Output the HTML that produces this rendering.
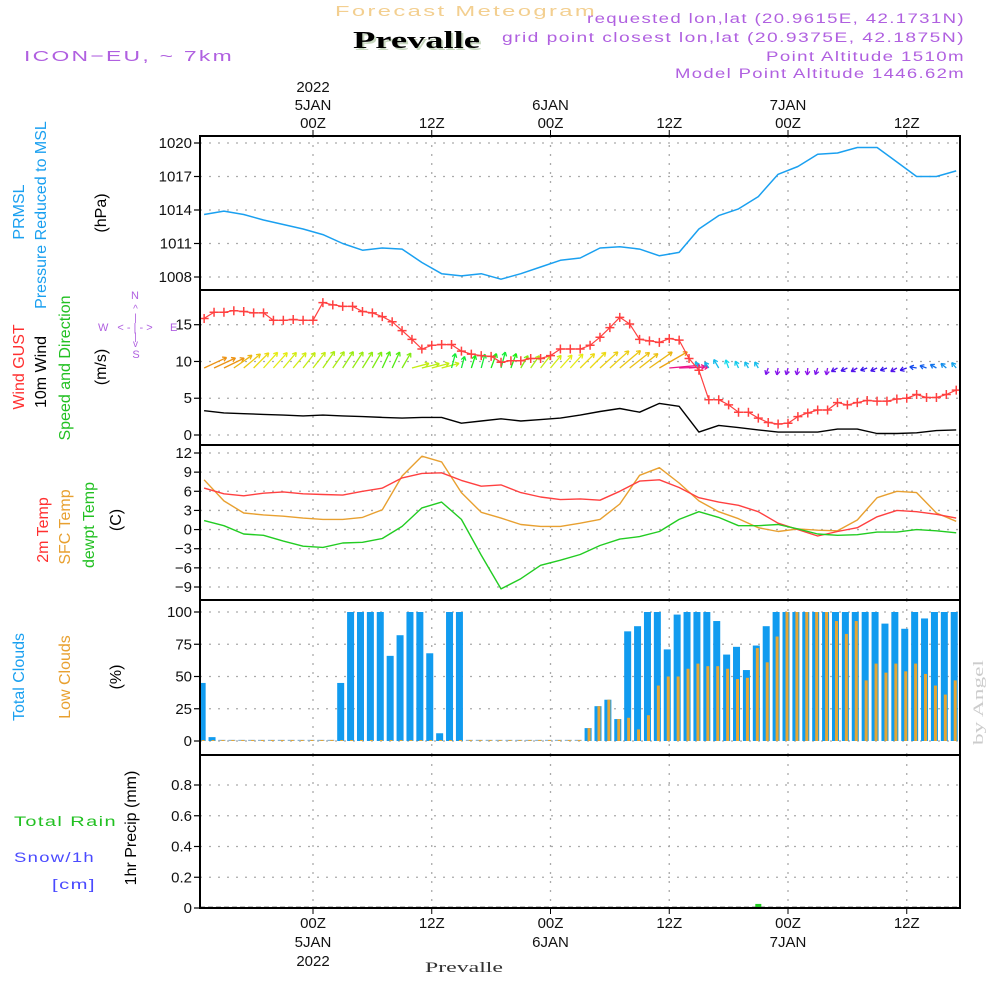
<!DOCTYPE html>
<html><head><meta charset="utf-8"><title>Forecast Meteogram Prevalle</title>
<style>
html,body{margin:0;padding:0;background:#fff;}
svg{display:block;font-family:"Liberation Sans",sans-serif;}
.tk{font-size:15px;fill:#111;}
.lab{font-family:"Liberation Sans Narrow","Liberation Sans",sans-serif;font-size:16px;}
</style></head>
<body>
<svg id="chart" width="1000" height="1000" viewBox="0 0 1000 1000" xmlns="http://www.w3.org/2000/svg">
<g id="header">
<text x="335" y="16" font-size="15" fill="#f3cf90" letter-spacing="1.5" textLength="262" lengthAdjust="spacingAndGlyphs">Forecast Meteogram</text>
<text x="355" y="50" font-family="Liberation Serif,serif" font-weight="bold" font-size="24" fill="#c8d8c0" textLength="127" lengthAdjust="spacingAndGlyphs">Prevalle</text>
<text x="353" y="48" font-family="Liberation Serif,serif" font-weight="bold" font-size="24" fill="#000" textLength="127" lengthAdjust="spacingAndGlyphs">Prevalle</text>
<text x="24" y="61" font-size="15" fill="#b060e0" letter-spacing="1.5" textLength="210" lengthAdjust="spacingAndGlyphs">ICON−EU, ~ 7km</text>
<text x="587" y="23" font-size="13.5" fill="#b060e0" letter-spacing="1" textLength="378" lengthAdjust="spacingAndGlyphs">requested lon,lat (20.9615E, 42.1731N)</text>
<text x="502" y="42" font-size="13.5" fill="#b060e0" letter-spacing="1" textLength="463" lengthAdjust="spacingAndGlyphs">grid point closest lon,lat (20.9375E, 42.1875N)</text>
<text x="766" y="61" font-size="13.5" fill="#b060e0" letter-spacing="1" textLength="199" lengthAdjust="spacingAndGlyphs">Point Altitude 1510m</text>
<text x="675" y="78" font-size="13.5" fill="#b060e0" letter-spacing="1" textLength="290" lengthAdjust="spacingAndGlyphs">Model Point Altitude 1446.62m</text>
<text x="425" y="972" font-family="Liberation Serif,serif" font-size="15" fill="#333" textLength="78" lengthAdjust="spacingAndGlyphs">Prevalle</text>
<text transform="translate(983,745) rotate(-90)" font-family="Liberation Serif,serif" font-size="15" fill="#ccc" textLength="85" lengthAdjust="spacingAndGlyphs">by Angel</text>
</g>
<g id="leftlabels" class="lab">
<text transform="translate(24,212) rotate(-90)" text-anchor="middle" fill="#1aa0f0">PRMSL</text>
<text transform="translate(46,215) rotate(-90)" text-anchor="middle" fill="#1aa0f0">Pressure Reduced to MSL</text>
<text transform="translate(106,213) rotate(-90)" text-anchor="middle" fill="#000">(hPa)</text>
<text transform="translate(24,367) rotate(-90)" text-anchor="middle" fill="#ff3030">Wind GUST</text>
<text transform="translate(46,372) rotate(-90)" text-anchor="middle" fill="#000">10m Wind</text>
<text transform="translate(70,368) rotate(-90)" text-anchor="middle" fill="#22c022">Speed and Direction</text>
<text transform="translate(106,367) rotate(-90)" text-anchor="middle" fill="#000">(m/s)</text>
<g fill="#b060e0" stroke="none" font-size="11">
<text x="135" y="299" text-anchor="middle">N</text>
<text x="135.5" y="312" text-anchor="middle" font-size="10">^</text>
<text x="135.5" y="321" text-anchor="middle" font-size="10">|</text>
<text x="98" y="331">W</text>
<text x="170" y="331">E</text>
<text x="135" y="331" text-anchor="middle" font-size="11">&lt; - | - &gt;</text>
<text x="135.5" y="340" text-anchor="middle" font-size="10">|</text>
<text x="135.5" y="347" text-anchor="middle" font-size="10">v</text>
<text x="136" y="358" text-anchor="middle">S</text>
</g>
<text transform="translate(48,530) rotate(-90)" text-anchor="middle" fill="#ff3030">2m Temp</text>
<text transform="translate(70,527) rotate(-90)" text-anchor="middle" fill="#e8a030">SFC Temp</text>
<text transform="translate(94,525) rotate(-90)" text-anchor="middle" fill="#22c022">dewpt Temp</text>
<text transform="translate(121,520) rotate(-90)" text-anchor="middle" fill="#000">(C)</text>
<text transform="translate(24,677) rotate(-90)" text-anchor="middle" fill="#1aa0f0">Total Clouds</text>
<text transform="translate(70,677) rotate(-90)" text-anchor="middle" fill="#e8a030">Low Clouds</text>
<text transform="translate(121,677) rotate(-90)" text-anchor="middle" fill="#000">(%)</text>
<text transform="translate(136,828) rotate(-90)" text-anchor="middle" fill="#000">1hr Precip (mm)</text>
<text x="14" y="826" fill="#22c022" font-family="Liberation Sans,sans-serif" font-size="14" letter-spacing="1" textLength="103" lengthAdjust="spacingAndGlyphs">Total   Rain</text>
<text x="14" y="862" fill="#4a4aff" font-family="Liberation Sans,sans-serif" font-size="14" letter-spacing="1" textLength="81" lengthAdjust="spacingAndGlyphs">Snow/1h</text>
<text x="52" y="889" fill="#4a4aff" font-family="Liberation Sans,sans-serif" font-size="14" letter-spacing="1" textLength="44" lengthAdjust="spacingAndGlyphs">[cm]</text>
</g>
<g id="grid"></g>
<g id="marks"></g>
<g id="frames"></g>
<g id="ticks"></g>
</svg>
<script>
// ---- data ----
var lineStart = -11; // hours from 00Z 5JAN, 2-hourly series
var pressure = [1013.6,1013.9,1013.6,1013.1,1012.7,1012.3,1011.8,1011.0,1010.4,1010.6,1010.5,1009.3,1008.3,1008.1,1008.3,1007.8,1008.3,1008.9,1009.5,1009.7,1010.6,1010.7,1010.5,1009.9,1010.2,1012.3,1013.5,1014.1,1015.2,1017.2,1017.9,1019.0,1019.1,1019.6,1019.6,1018.3,1017.0,1017.0,1017.5];
var windSpeed = [3.3,3.0,2.9,2.8,2.7,2.6,2.7,2.6,2.5,2.4,2.3,2.4,2.4,1.6,1.9,2.2,1.9,2.1,2.3,2.7,3.2,3.6,3.1,4.3,3.9,0.4,1.3,1.0,0.7,0.4,0.4,0.4,0.8,0.8,0.2,0.2,0.3,0.6,0.7];
var temp2m = [6.5,5.6,5.3,5.7,5.9,5.6,5.5,5.4,6.0,6.5,8.1,8.8,8.9,7.7,6.8,7.0,5.8,5.1,4.7,4.8,4.6,6.0,7.6,7.8,6.6,5.0,4.3,3.8,2.8,1.0,0.0,-1.0,-0.3,0.3,2.0,3.0,2.8,2.4,1.8];
var tempSfc = [7.8,4.5,2.6,2.3,2.1,1.8,1.6,1.6,1.9,3.1,8.4,11.5,10.6,5.8,2.7,1.8,0.8,0.5,0.5,1.0,1.6,4.0,8.5,9.7,7.3,4.5,2.8,1.7,0.3,-0.3,0.1,-0.1,-0.2,1.5,5.0,6.0,5.8,2.6,1.3];
var dewpt = [1.4,0.6,-0.7,-0.9,-1.8,-2.6,-2.8,-2.1,-2.0,-1.4,0.5,3.4,4.3,1.6,-4.0,-9.3,-7.7,-5.6,-4.8,-3.9,-2.5,-1.5,-1.1,-0.3,1.6,2.8,1.9,0.6,0.6,0.8,0.1,-0.7,-0.9,-0.8,-0.4,-0.4,0.0,-0.2,-0.5];
var hourStart = -11; // hourly series
var gust = [15.85,16.7,16.7,16.9,16.8,16.6,16.6,15.6,15.6,15.7,15.6,15.6,18.0,17.7,17.5,17.5,16.8,16.6,16.1,15.4,14.2,13.0,11.7,12.2,12.3,12.3,11.4,11.0,10.8,10.7,9.9,10.1,10.1,10.4,10.4,10.8,11.7,11.7,11.7,12.2,13.3,14.6,16.0,15.1,13.0,12.8,12.6,13.1,12.9,10.4,8.8,4.8,4.8,4.1,3.1,3.1,2.3,1.7,1.5,1.6,2.5,3.0,3.4,3.4,4.4,4.1,4.4,4.7,4.6,4.6,4.9,5.0,5.5,5.1,5.1,5.5,6.1];
var windDir = [245,245,244,235,230,225,222,222,220,220,218,218,215,215,213,213,212,210,205,205,210,255,256,255,255,195,195,198,195,200,195,200,210,215,218,220,222,222,225,225,228,228,230,232,232,235,240,265,268,265,150,145,150,160,155,150,150,20,10,15,10,5,20,10,60,65,60,70,65,70,60,70,100,110,120,130,140];
var totalClouds = [45,3,0,0,0,0,0,0,0,0,0,0,0,0,45,100,100,100,100,66,82,100,100,68,6,100,100,0,0,0,0,0,0,0,0,0,0,0,0,10,27,32,17,85,89,100,100,71,98,100,100,100,93,67,73,55,74,89,100,100,100,100,100,100,100,100,100,100,100,91,100,87,100,95,100,100,100];
var lowClouds = [0,0,0,0,0,0,0,0,0,0,0,0,0,0,0,0,0,0,0,0,0,0,0,0,0,0,0,0,0,0,0,0,0,0,0,0,0,0,0,10,27,32,17,18,9,20,43,50,50,56,60,58,58,56,48,49,72,61,81,100,100,100,100,100,93,83,93,47,60,53,60,54,60,52,43,36,47];
var precipHours = [45];
var precipValues = [0.02];
var pressTicks = [1020,1017,1014,1011,1008];
var windTicks = [15,10,5,0];
var tempTicks = [12,9,6,3,0,-3,-6,-9];
var cloudTicks = [100,75,50,25,0];
var precipTicks = [0.8,0.6,0.4,0.2,0];
var timeTicks = [0,12,24,36,48,60];
var topLabels = [["2022","5JAN","00Z"],["","","12Z"],["","6JAN","00Z"],["","","12Z"],["","7JAN","00Z"],["","","12Z"]];
var botLabels = [["00Z","5JAN","2022"],["12Z","",""],["00Z","6JAN",""],["12Z","",""],["00Z","7JAN",""],["12Z","",""]];

// ---- scales ----
var X0=200,X1=960;
function xs(t){return 313+t*(118.75/12);}
function yP(p){return 277-(p-1008)*(134/12);}
function yW(v){return 435-v*(110.3/15);}
function yT(v){return 587-(v+9)*(134/21);}
function yC(c){return 741-c*1.29;}
function yR(r){return 908-r*153.75;}
var panels=[[136,290,yP,pressTicks,function(v){return String(v);},'pressure'],[290,445,yW,windTicks,function(v){return String(v);},'wind'],[445,600,yT,tempTicks,function(v){return v<0?'−'+(-v):String(v);},'temp'],[600,755,yC,cloudTicks,function(v){return String(v);},'cloud'],[755,908,yR,precipTicks,function(v){return v===0?'0':v.toFixed(1);},'precip']];
var NS='http://www.w3.org/2000/svg';
function mk(tag,attrs,parent){var e=document.createElementNS(NS,tag);for(var k in attrs)e.setAttribute(k,attrs[k]);parent.appendChild(e);return e;}
var G=document.getElementById('grid'),M=document.getElementById('marks'),F=document.getElementById('frames'),T=document.getElementById('ticks');

var defs=mk('defs',{},document.getElementById('chart'));
var cp=mk('clipPath',{id:'plotclip'},defs);mk('rect',{x:X0,y:136,width:X1-X0,height:772},cp);
M.setAttribute('clip-path','url(#plotclip)');

panels.forEach(function(p){
  var top=p[0],bot=p[1],f=p[2];
  p[3].forEach(function(v){
    var y=f(v);
    var gl=mk('line',{x1:X0,x2:X1,y1:y,y2:y,stroke:'#aaa','stroke-width':1.3,'stroke-dasharray':'2,7'},G);
    
    
    var tl=mk('line',{x1:X0-6,x2:X0,y1:y,y2:y,stroke:'#000','stroke-width':1.2},T);
    
    
    var tx=mk('text',{x:X0-8,y:y+5,'text-anchor':'end','class':'tk'},T);
    tx.textContent=p[4](v);
    
    
  });
  timeTicks.forEach(function(t){
    var vl=mk('line',{x1:xs(t),x2:xs(t),y1:top,y2:bot,stroke:'#aaa','stroke-width':1.3,'stroke-dasharray':'2,7'},G);
    
    
  });
  var fr=mk('rect',{x:X0,y:top,width:X1-X0,height:bot-top,fill:'none',stroke:'#000','stroke-width':2},F);
  
  
});
timeTicks.forEach(function(t,i){
  var x=xs(t);
  mk('line',{x1:x,x2:x,y1:130,y2:136,stroke:'#000'},T);
  mk('line',{x1:x,x2:x,y1:908,y2:914,stroke:'#000'},T);
  var ys=[87,105,123];
  topLabels[i].forEach(function(s,j){if(!s)return;var e=mk('text',{x:x,y:ys[j]+5,'text-anchor':'middle','class':'tk'},T);e.textContent=s;
    
    });
  var yb=[923,942,961];
  botLabels[i].forEach(function(s,j){if(!s)return;var e=mk('text',{x:x,y:yb[j]+5,'text-anchor':'middle','class':'tk'},T);e.textContent=s;
    
    });
});

function poly(arr,start,step,f,color,name,w){
  var pts=arr.map(function(v,i){return xs(start+i*step).toFixed(1)+','+f(v).toFixed(1);}).join(' ');
  var e=mk('polyline',{points:pts,fill:'none',stroke:color,'stroke-width':w||1.5,'stroke-linejoin':'round'},M);
  
  
}
totalClouds.forEach(function(v,i){
  var x=xs(hourStart+i)-2;
  var h=Math.max(v*1.29,1.2);
  var r=mk('rect',{x:x-3.5,y:741-h,width:7,height:h,fill:v>0?'#119bef':'#8fb5d0'},M);
  
  
});
lowClouds.forEach(function(v,i){
  var x=xs(hourStart+i)-1;
  var h=Math.max(v*1.29,1);
  var r=mk('rect',{x:x-1.5,y:741-h,width:3,height:h,fill:'#e5a634'},M);
  
  
});
mk('line',{x1:X0,x2:X1,y1:907.5,y2:907.5,stroke:'#000','stroke-width':1.5,'stroke-dasharray':'5,3'},M);
precipHours.forEach(function(h,i){
  var r=mk('rect',{x:xs(h)-3,y:yR(precipValues[i])-1,width:6,height:908-yR(precipValues[i])+1,fill:'#22cc22'},M);
  
  
});
poly(pressure,lineStart,2,yP,'#1aa0f0','pressure-line',1.5);
poly(tempSfc,lineStart,2,yT,'#e8a030','sfc-temp-line',1.4);
poly(temp2m,lineStart,2,yT,'#ff4040','temp-2m-line',1.4);
poly(dewpt,lineStart,2,yT,'#22cc22','dewpt-line',1.4);
poly(windSpeed,lineStart,2,yW,'#000','wind-speed-line',1.4);
function dirColor(d){
  var stops=[[0,275],[60,258],[100,225],[140,200],[170,178],[195,130],[210,90],[225,55],[245,35],[256,75],[261,330],[360,275]];
  for(var i=0;i<stops.length-1;i++){if(d>=stops[i][0]&&d<=stops[i+1][0]){var f=(d-stops[i][0])/(stops[i+1][0]-stops[i][0]);var a=stops[i][1],b=stops[i+1][1];if(Math.abs(b-a)>180){return 'hsl('+b+',85%,52%)';}var h=a+f*(b-a);return 'hsl('+h.toFixed(0)+',85%,50%)';}}
  return '#888';
}
function speedAt(t){var k=(t-lineStart)/2;var i=Math.max(0,Math.min(windSpeed.length-2,Math.floor(k)));var f=k-i;return windSpeed[i]*(1-f)+windSpeed[i+1]*f;}
windDir.forEach(function(d,i){
  var t=hourStart+i;var x=xs(t),y=368;
  var L=Math.max(7,speedAt(t)*7.5);
  var a=(d+180)*Math.PI/180;
  var dx=Math.sin(a)*L,dy=-Math.cos(a)*L;
  var x2=x+dx,y2=y+dy;
  var c=dirColor(d);
  var g=mk('g',{stroke:c,'stroke-width':1.3,fill:'none'},M);
  
  
  mk('line',{x1:x,y1:y,x2:x2,y2:y2},g);
  var ang=Math.atan2(dy,dx);
  [2.6,-2.6].forEach(function(o){mk('line',{x1:x2,y1:y2,x2:x2+Math.cos(ang+o)*4.5,y2:y2+Math.sin(ang+o)*4.5},g);});
});
poly(gust,hourStart,1,yW,'#ff4040','gust-line',1.2);
gust.forEach(function(v,i){
  var x=xs(hourStart+i),y=yW(v);
  var g=mk('path',{d:'M'+(x-4.5)+','+y+'h9M'+x+','+(y-4.5)+'v9',stroke:'#ff4040','stroke-width':1.5},M);
  
  
});
</script>
</body></html>
